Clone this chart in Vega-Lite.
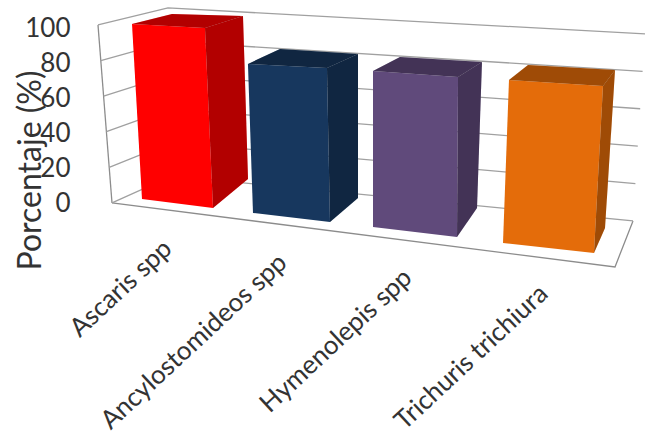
{
  "$schema": "https://vega.github.io/schema/vega-lite/v6.json",
  "width": 645,
  "height": 438,
  "padding": 0,
  "autosize": "none",
  "background": "white",
  "view": {"stroke": null},
  "config": {"font": "Lato"},
  "datasets": {
    "bars": [
      {"category": "Ascaris spp", "value": 100},
      {"category": "Ancylostomideos spp", "value": 84},
      {"category": "Hymenolepis spp", "value": 86},
      {"category": "Trichuris trichiura", "value": 88}
    ],
    "levels": [
      {"level": 0}, {"level": 20}, {"level": 40}, {"level": 60}, {"level": 80}, {"level": 100}
    ],
    "edges": [{"edge": "left"}, {"edge": "floor"}]
  },
  "encoding": {
    "x": {"field": "sx", "type": "quantitative", "scale": {"domain": [0, 645], "nice": false, "zero": false}, "axis": null},
    "y": {
      "field": "sy",
      "type": "quantitative",
      "scale": {"domain": [-133.6, 116.4], "nice": false, "zero": false},
      "axis": {
        "values": [0, 20, 40, 60, 80, 100],
        "orient": "left",
        "offset": -70,
        "grid": false,
        "domain": false,
        "ticks": false,
        "labelPadding": 0,
        "labelFont": "Lato",
        "labelFontSize": 26,
        "labelColor": "#333333",
        "labelFlush": false,
        "labelOverlap": false,
        "labelBound": false,
        "encode": {"labels": {"update": {"dx": {"signal": "(100 - datum.value) * 0.12"}}}},
        "title": "Porcentaje (%)",
        "titleFont": "Lato",
        "titleFontWeight": "normal",
        "titleFontSize": 32,
        "titleColor": "#333333",
        "titleX": -40,
        "titleY": 170,
        "titleAngle": -90,
        "titleAlign": "center",
        "titleBaseline": "middle"
      }
    }
  },
  "layer": [
    {
      "data": {"name": "edges"},
      "transform": [
        {"calculate": "datum.edge === 'left' ? [112, 98] : [112, 615, 633]", "as": "xs"},
        {"calculate": "datum.edge === 'left' ? [203, 25] : [203, 267, 221]", "as": "ys"},
        {"calculate": "datum.edge === 'left' ? [0, 1] : [0, 1, 2]", "as": "v"},
        {"flatten": ["xs", "ys", "v"]},
        {"calculate": "datum.xs", "as": "sx"},
        {"calculate": "(204 - datum.ys) / 1.752", "as": "sy"}
      ],
      "mark": {"type": "line", "stroke": "#8c8c8c", "strokeWidth": 1.3},
      "encoding": {"detail": {"field": "edge"}, "order": {"field": "v"}}
    },
    {
      "data": {"name": "levels"},
      "transform": [
        {"calculate": "[0, 1, 2]", "as": "v"},
        {"flatten": ["v"]},
        {"calculate": "[112 - 0.14 * datum.level, 172 - 0.04 * datum.level, 633 + 0.12 * datum.level][datum.v]", "as": "sx"},
        {"calculate": "(204 - [203 - 1.78 * datum.level, 176 - 1.68 * datum.level, 221 - 1.87 * datum.level][datum.v]) / 1.752", "as": "sy"}
      ],
      "mark": {"type": "line", "stroke": "#a0a0a0", "strokeWidth": 1.3},
      "encoding": {"detail": {"field": "level"}, "order": {"field": "v"}}
    },
    {
      "data": {"name": "bars"},
      "transform": [
        {"calculate": "indexof(['Ascaris spp', 'Ancylostomideos spp', 'Hymenolepis spp', 'Trichuris trichiura'], datum.category)", "as": "i"},
        {"calculate": "[[142, 213, 248, 177], [253, 330, 358, 281], [373, 457, 477, 393], [503, 594, 605, 514]][datum.i]", "as": "bx"},
        {"calculate": "[[199, 208, 179, 170], [213, 222, 198, 189], [227, 237, 208, 198], [243, 253, 228, 218]][datum.i]", "as": "by"},
        {"calculate": "[[132, 205, 243, 172], [247, 326.4, 358, 279.8], [373, 458.2, 482.8, 401.1], [509.8, 604.2, 616.4, 529.9]][datum.i]", "as": "tx"},
        {"calculate": "[[24, 28, 16, 14], [35.6, 38.7, 26.6, 22.3], [45.6, 51, 38.2, 34], [57.8, 63.2, 48.5, 44.1]][datum.i]", "as": "ty"},
        {"calculate": "['front', 'side', 'top']", "as": "face"},
        {"flatten": ["face"]},
        {"calculate": "[0, 1, 2, 3]", "as": "v"},
        {"flatten": ["v"]},
        {"calculate": "{front: [0, 1, 1, 0], side: [1, 2, 2, 1], top: [0, 1, 2, 3]}[datum.face][datum.v]", "as": "corner"},
        {"calculate": "{front: [0, 0, 1, 1], side: [0, 0, 1, 1], top: [1, 1, 1, 1]}[datum.face][datum.v]", "as": "lift"},
        {"calculate": "datum.bx[datum.corner] + datum.lift * (datum.tx[datum.corner] - datum.bx[datum.corner]) * datum.value / 100", "as": "sx"},
        {"calculate": "(204 - (datum.by[datum.corner] + datum.lift * (datum.ty[datum.corner] - datum.by[datum.corner]) * datum.value / 100)) / 1.752", "as": "sy"}
      ],
      "layer": [
        {
          "mark": {"type": "line", "strokeWidth": 0.5, "stroke": "transparent"},
          "encoding": {
            "fill": {
              "field": "category",
              "type": "nominal",
              "scale": {
                "domain": ["Ascaris spp", "Ancylostomideos spp", "Hymenolepis spp", "Trichuris trichiura"],
                "range": ["#ff0000", "#17375e", "#604a7b", "#e46c0a"]
              },
              "legend": null
            },
            "detail": {"field": "face"},
            "order": {"field": "v"}
          }
        },
        {
          "transform": [{"filter": "datum.face !== 'front'"}],
          "mark": {"type": "line", "fill": "#000000", "fillOpacity": 0.3, "stroke": "transparent"},
          "encoding": {
            "detail": [{"field": "category"}, {"field": "face"}],
            "order": {"field": "v"}
          }
        }
      ]
    },
    {
      "data": {"name": "bars"},
      "transform": [
        {"calculate": "indexof(['Ascaris spp', 'Ancylostomideos spp', 'Hymenolepis spp', 'Trichuris trichiura'], datum.category)", "as": "i"},
        {"calculate": "[168, 283, 408, 544][datum.i]", "as": "sx"},
        {"calculate": "(204 - [245, 259, 274, 290][datum.i]) / 1.752", "as": "sy"}
      ],
      "mark": {"type": "text", "angle": -43, "align": "right", "baseline": "middle", "font": "Lato", "fontSize": 26, "color": "#333333"},
      "encoding": {"text": {"field": "category"}}
    }
  ]
}
